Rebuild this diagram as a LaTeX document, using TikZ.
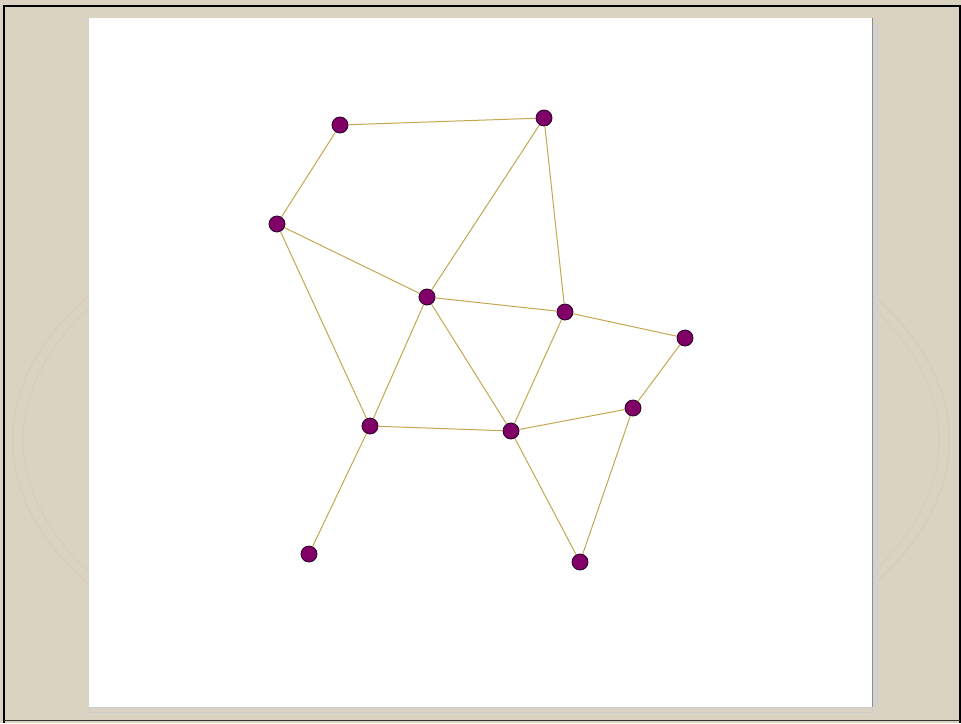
\documentclass[tikz,border=0pt]{standalone}
\begin{document}
\begin{tikzpicture}[x=1pt,y=-1pt,
  vtx/.style={circle,draw=black!70!violet,line width=0.8pt,fill=vcol,minimum size=16pt,inner sep=0pt},
  edge/.style={draw=ecol,line width=1pt}]
\definecolor{bg}{HTML}{DAD3C1}
\definecolor{vcol}{HTML}{800068}
\definecolor{ecol}{HTML}{C4A850}
\definecolor{faint}{HTML}{D5CDB9}
\useasboundingbox (0,0) rectangle (961,723);
\fill[bg] (0,0) rectangle (961,723);
\draw[faint,line width=1.2pt] (481,440) ellipse [x radius=468, y radius=265];
\draw[faint,line width=0.8pt] (481,440) ellipse [x radius=458, y radius=255];
\draw[black,line width=2.5pt] (4,723) -- (4,6) -- (960,6) -- (960,723);
\draw[black!80,line width=1.5pt] (4,720.5) -- (960,720.5);
\fill[white] (89,18) rectangle (872,707);
\fill[black!18] (872,25) rectangle (878,707);
\draw[black!45] (872,18) -- (872,707);
\draw[black!20] (89,707) rectangle (872,712);
\node[vtx] (A) at (340,125) {};
\node[vtx] (B) at (544,118) {};
\node[vtx] (C) at (277,224) {};
\node[vtx] (D) at (427,297) {};
\node[vtx] (E) at (565,312) {};
\node[vtx] (F) at (685,338) {};
\node[vtx] (G) at (633,408) {};
\node[vtx] (H) at (370,426) {};
\node[vtx] (I) at (511,431) {};
\node[vtx] (J) at (309,554) {};
\node[vtx] (K) at (580,562) {};
\foreach \a/\b in {A/B,A/C,B/D,B/E,C/D,C/H,D/E,D/H,D/I,E/F,E/I,F/G,G/I,G/K,H/I,H/J,I/K}
  \draw[edge] (\a) -- (\b);
\end{tikzpicture}
\end{document}
